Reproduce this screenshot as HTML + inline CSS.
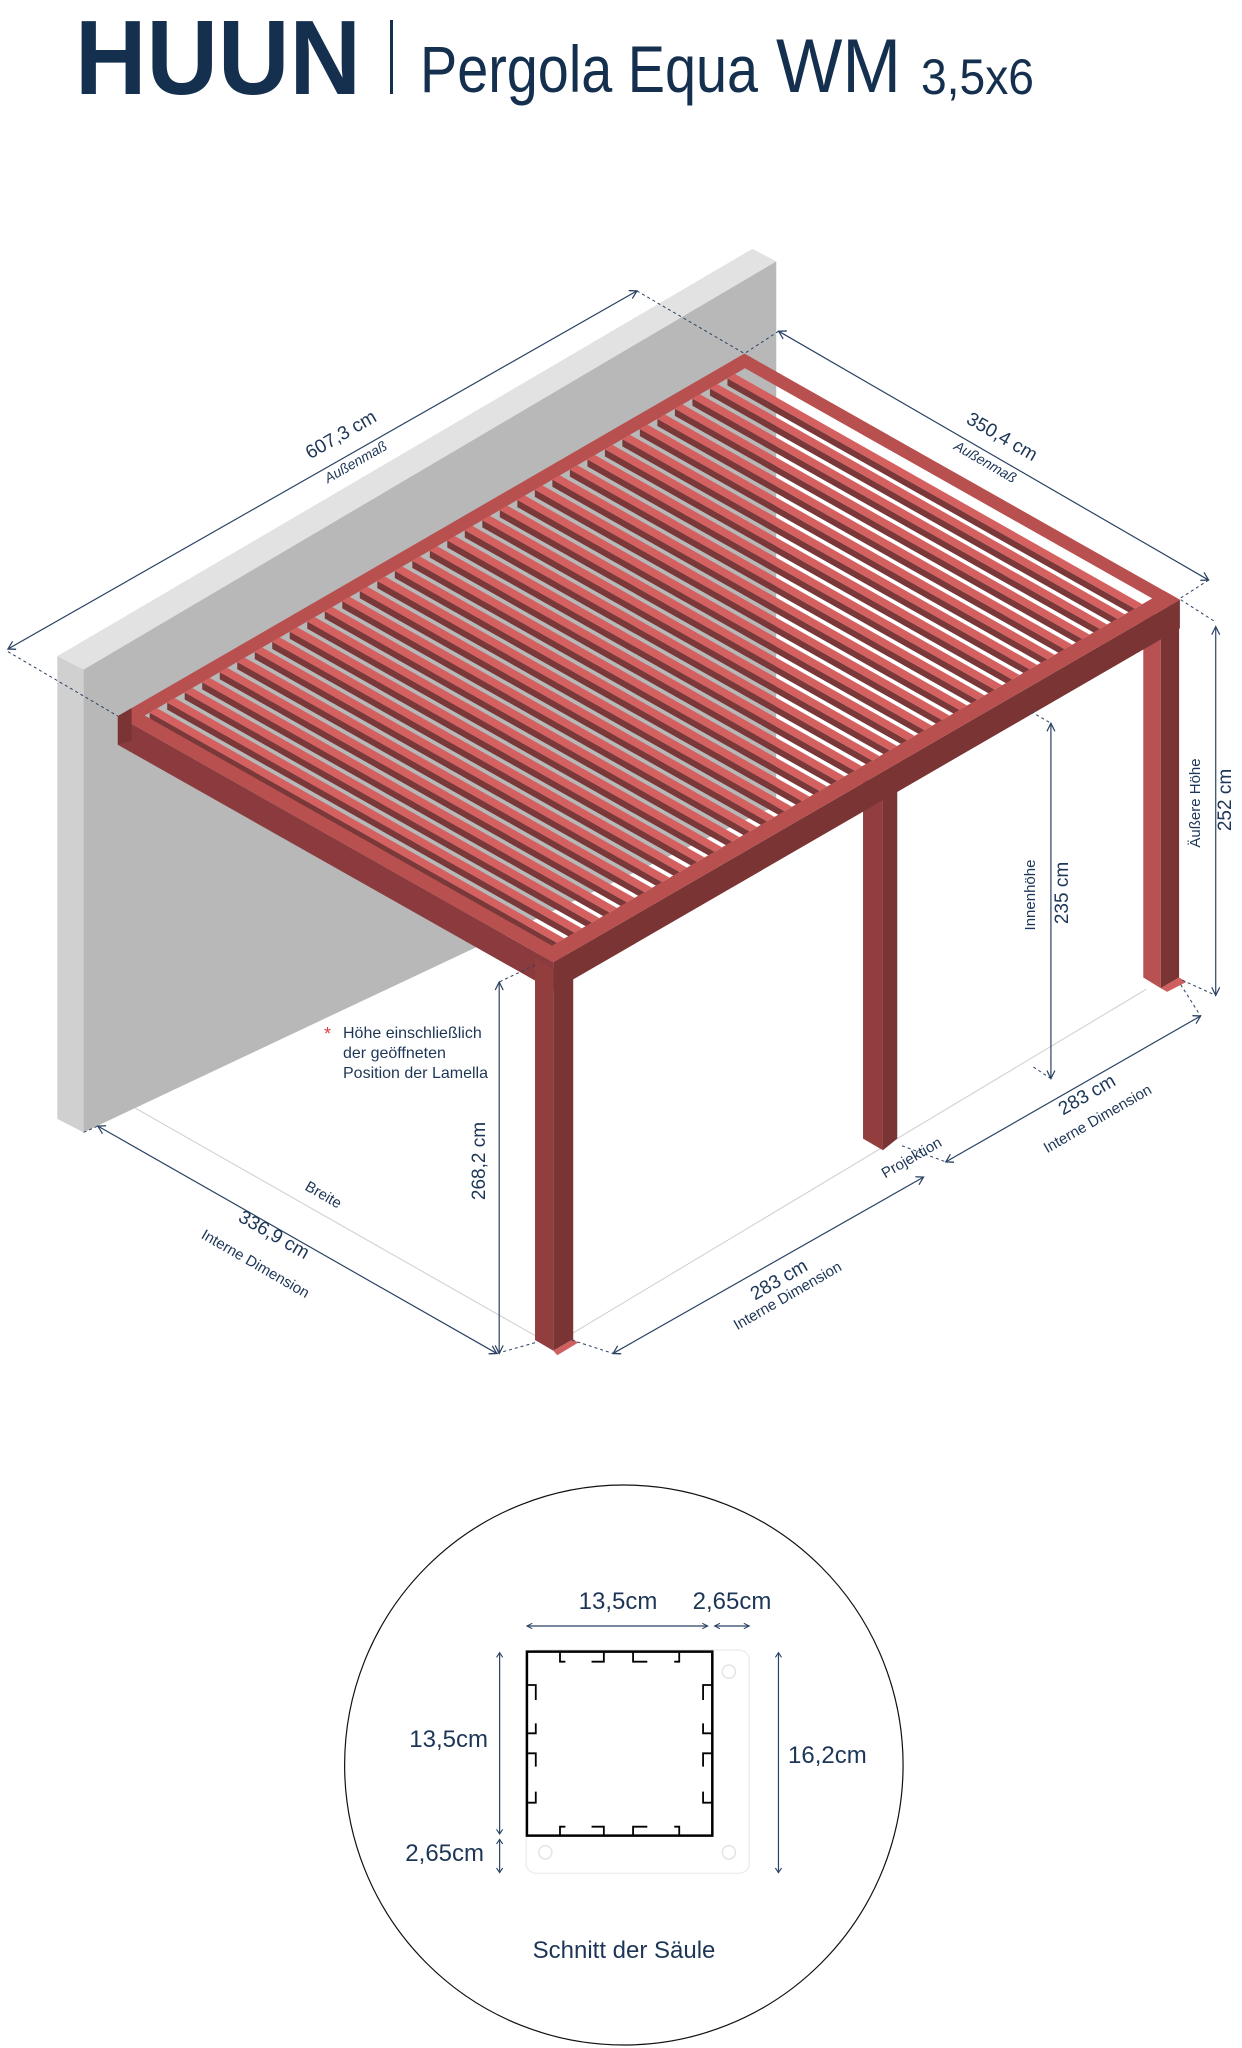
<!DOCTYPE html>
<html><head><meta charset="utf-8">
<style>
html,body{margin:0;padding:0;background:#fff;}
body{width:1242px;height:2048px;position:relative;overflow:hidden;font-family:"Liberation Sans",sans-serif;}
svg{position:absolute;left:0;top:0;}
</style></head>
<body>
<svg id="draw" width="1242" height="1400" viewBox="0 0 1560 1564" preserveAspectRatio="none">
<defs>
<marker id="ar" markerWidth="14" markerHeight="14" refX="12" refY="7" orient="auto-start-reverse" markerUnits="userSpaceOnUse">
<path d="M3,2 L12,7 L3,12" fill="none" stroke="#2a4263" stroke-width="1.5"/>
</marker>
</defs>
<polygon points="72,733 945,278 975,292 105,748" fill="#e2e2e2"/>
<polygon points="72,733 105,748 105,1265 72,1250" fill="#d0d0d0"/>
<polygon points="105,748 975,292 975,900 105,1265" fill="#b8b8b8"/>
<g stroke="#cfcfcf" stroke-width="1">
<line x1="170" y1="1238" x2="672" y2="1492" vector-effect="non-scaling-stroke"/>
<line x1="718" y1="1490" x2="1440" y2="1105" vector-effect="non-scaling-stroke"/>
</g>
<polygon points="1436,680 1458,690 1458,1104 1436,1092" fill="#b85252"/>
<polygon points="1458,690 1481,678 1481,1092 1458,1104" fill="#7a3434"/>
<polygon points="1458,1104 1481,1092 1490,1097 1466,1108" fill="#d06060"/>
<polygon points="1084,870 1109,880 1109,1285 1084,1272" fill="#923e3e"/>
<polygon points="1109,880 1127,870 1127,1272 1109,1285" fill="#7a3434"/>
<g id="roof"></g>
<polygon points="672,1070 695,1082 695,1509 672,1497" fill="#923e3e"/>
<polygon points="695,1082 720,1068 720,1496 695,1509" fill="#7a3434"/>
<polygon points="695,1509 720,1496 726,1500 700,1514" fill="#d06060"/>
<g stroke="#2a4263" stroke-width="1.2" fill="none">
<line x1="10" y1="725" x2="800" y2="325" marker-start="url(#ar)" marker-end="url(#ar)" vector-effect="non-scaling-stroke"/>
<line x1="978" y1="370" x2="1518" y2="648" marker-start="url(#ar)" marker-end="url(#ar)" vector-effect="non-scaling-stroke"/>
<line x1="1527" y1="700" x2="1527" y2="1112" marker-start="url(#ar)" marker-end="url(#ar)" vector-effect="non-scaling-stroke"/>
<line x1="1320" y1="808" x2="1320" y2="1205" marker-start="url(#ar)" marker-end="url(#ar)" vector-effect="non-scaling-stroke"/>
<line x1="627" y1="1097" x2="627" y2="1512" marker-start="url(#ar)" marker-end="url(#ar)" vector-effect="non-scaling-stroke"/>
<line x1="123" y1="1258" x2="624" y2="1512" marker-start="url(#ar)" marker-end="url(#ar)" vector-effect="non-scaling-stroke"/>
<line x1="770" y1="1512" x2="1160" y2="1315" marker-start="url(#ar)" marker-end="url(#ar)" vector-effect="non-scaling-stroke"/>
<line x1="1188" y1="1298" x2="1508" y2="1135" marker-start="url(#ar)" marker-end="url(#ar)" vector-effect="non-scaling-stroke"/>
</g>
<g stroke="#2a4263" stroke-width="1" fill="none" stroke-dasharray="3,3">
<line x1="10" y1="728" x2="148" y2="800" vector-effect="non-scaling-stroke"/>
<line x1="800" y1="325" x2="935" y2="395" vector-effect="non-scaling-stroke"/>
<line x1="978" y1="370" x2="935" y2="395" vector-effect="non-scaling-stroke"/>
<line x1="1518" y1="648" x2="1483" y2="668" vector-effect="non-scaling-stroke"/>
<line x1="1483" y1="670" x2="1527" y2="695" vector-effect="non-scaling-stroke"/>
<line x1="1485" y1="1095" x2="1527" y2="1112" vector-effect="non-scaling-stroke"/>
<line x1="1295" y1="795" x2="1320" y2="808" vector-effect="non-scaling-stroke"/>
<line x1="1298" y1="1192" x2="1320" y2="1205" vector-effect="non-scaling-stroke"/>
<line x1="672" y1="1078" x2="627" y2="1097" vector-effect="non-scaling-stroke"/>
<line x1="105" y1="1265" x2="123" y2="1258" vector-effect="non-scaling-stroke"/>
<line x1="672" y1="1500" x2="624" y2="1512" vector-effect="non-scaling-stroke"/>
<line x1="718" y1="1497" x2="770" y2="1512" vector-effect="non-scaling-stroke"/>
<line x1="1133" y1="1280" x2="1188" y2="1298" vector-effect="non-scaling-stroke"/>
<line x1="1483" y1="1100" x2="1508" y2="1135" vector-effect="non-scaling-stroke"/>
</g>
</svg>

<svg width="1242" height="2048" viewBox="0 0 1242 2048">
<g fill="#15304f" font-family="Liberation Sans, sans-serif">
<text x="75" y="94" font-size="106" font-weight="bold" textLength="286" lengthAdjust="spacingAndGlyphs">HUUN</text>
<rect x="390" y="20" width="3" height="74"/>
<text x="420" y="92" font-size="66" textLength="338" lengthAdjust="spacingAndGlyphs">Pergola Equa</text>
<text x="776" y="92" font-size="76" textLength="125" lengthAdjust="spacingAndGlyphs">WM</text>
<text x="921" y="94" font-size="50" textLength="113" lengthAdjust="spacingAndGlyphs">3,5x6</text>
</g>
<g fill="#1d3657" font-family="Liberation Sans, sans-serif" text-anchor="middle">
<text transform="translate(344,440) rotate(-30)" font-size="19">607,3 cm</text>
<text transform="translate(358,466) rotate(-30)" font-size="14" font-style="italic">Außenmaß</text>
<text transform="translate(999,442) rotate(30)" font-size="19">350,4 cm</text>
<text transform="translate(983,466) rotate(30)" font-size="14" font-style="italic">Außenmaß</text>
<text transform="translate(1231,800) rotate(-90)" font-size="19">252 cm</text>
<text transform="translate(1200,803) rotate(-90)" font-size="15">Äußere Höhe</text>
<text transform="translate(1068,893) rotate(-90)" font-size="19">235 cm</text>
<text transform="translate(1035,895) rotate(-90)" font-size="15">Innenhöhe</text>
<text transform="translate(485,1161) rotate(-90)" font-size="19">268,2 cm</text>
<text transform="translate(321,1199) rotate(30)" font-size="15">Breite</text>
<text transform="translate(271,1240) rotate(30)" font-size="19">336,9 cm</text>
<text transform="translate(253,1268) rotate(30)" font-size="15">Interne Dimension</text>
<text transform="translate(914,1162) rotate(-30)" font-size="15">Projektion</text>
<text transform="translate(782,1285) rotate(-30)" font-size="19">283 cm</text>
<text transform="translate(790,1300) rotate(-30)" font-size="15">Interne Dimension</text>
<text transform="translate(1090,1100) rotate(-30)" font-size="19">283 cm</text>
<text transform="translate(1100,1123) rotate(-30)" font-size="15">Interne Dimension</text>
</g>
<g fill="#1d3657" font-size="16" font-family="Liberation Sans, sans-serif">
<text x="324" y="1040" fill="#d94040" font-size="18">*</text>
<text x="343" y="1038">Höhe einschließlich</text>
<text x="343" y="1058">der geöffneten</text>
<text x="343" y="1078">Position der Lamella</text>
</g>
</svg>

<svg style="left:330px;top:1480px" width="600" height="568" viewBox="0 0 1560 1704" preserveAspectRatio="none">
<defs>
<marker id="ar2" markerWidth="30" markerHeight="30" refX="26" refY="15" orient="auto-start-reverse" markerUnits="userSpaceOnUse">
<path d="M12,7 L26,15 L12,23" fill="none" stroke="#2a4263" stroke-width="3"/>
</marker>
</defs>
<ellipse cx="764" cy="855" rx="726" ry="840" fill="none" stroke="#111" stroke-width="1.2" vector-effect="non-scaling-stroke"/>
<rect x="510" y="510" width="580" height="670" rx="28" fill="#fff" stroke="#eeeeee" stroke-width="1.5" vector-effect="non-scaling-stroke"/>
<g fill="none" stroke="#e4e4e4" stroke-width="1.5">
<ellipse cx="1037" cy="575" rx="17" ry="20" vector-effect="non-scaling-stroke"/>
<ellipse cx="560" cy="1117" rx="17" ry="20" vector-effect="non-scaling-stroke"/>
<ellipse cx="1037" cy="1117" rx="17" ry="20" vector-effect="non-scaling-stroke"/>
</g>
<rect x="512" y="515" width="482" height="552" fill="#fff" stroke="#000" stroke-width="2.5" vector-effect="non-scaling-stroke"/>
<g fill="none" stroke="#000" stroke-width="1.8">
<path d="M598,518 V545 H612 M680,545 H712 V518 M788,518 V545 H825 M895,545 H908 V518" vector-effect="non-scaling-stroke"/>
<path d="M598,1065 V1040 H612 M680,1040 H712 V1065 M788,1065 V1040 H825 M895,1040 H908 V1065" vector-effect="non-scaling-stroke"/>
<path d="M515,615 H535 V660 M535,730 V760 H515 M515,820 H535 V860 M535,935 V968 H515" vector-effect="non-scaling-stroke"/>
<path d="M991,615 H970 V660 M970,730 V760 H991 M991,820 H970 V860 M970,935 V968 H991" vector-effect="non-scaling-stroke"/>
</g>
<g stroke="#2a4263" stroke-width="1.2" fill="none">
<line x1="512" y1="438" x2="982" y2="438" marker-start="url(#ar2)" marker-end="url(#ar2)" vector-effect="non-scaling-stroke"/>
<line x1="1000" y1="438" x2="1090" y2="438" marker-start="url(#ar2)" marker-end="url(#ar2)" vector-effect="non-scaling-stroke"/>
<line x1="441" y1="518" x2="441" y2="1062" marker-start="url(#ar2)" marker-end="url(#ar2)" vector-effect="non-scaling-stroke"/>
<line x1="441" y1="1078" x2="441" y2="1178" marker-start="url(#ar2)" marker-end="url(#ar2)" vector-effect="non-scaling-stroke"/>
<line x1="1166" y1="518" x2="1166" y2="1178" marker-start="url(#ar2)" marker-end="url(#ar2)" vector-effect="non-scaling-stroke"/>
</g>
</svg>
<svg width="1242" height="2048" viewBox="0 0 1242 2048" style="pointer-events:none">
<g fill="#1d3657" font-size="24" font-family="Liberation Sans, sans-serif">
<text x="618" y="1609" text-anchor="middle">13,5cm</text>
<text x="732" y="1609" text-anchor="middle">2,65cm</text>
<text x="488" y="1747" text-anchor="end">13,5cm</text>
<text x="484" y="1861" text-anchor="end">2,65cm</text>
<text x="788" y="1763">16,2cm</text>
<text x="624" y="1958" text-anchor="middle">Schnitt der Säule</text>
</g>
</svg>

<script>
(function(){
var g=document.getElementById('roof');var NS='http://www.w3.org/2000/svg';
function P(u,v){return [148+787*u+547*v, 800-405*u+275*v];}
function poly(pts,fill){var p=document.createElementNS(NS,'polygon');p.setAttribute('points',pts.map(function(a){return a[0].toFixed(1)+','+a[1].toFixed(1);}).join(' '));p.setAttribute('fill',fill);g.appendChild(p);}
function dn(a,h){return [a[0],a[1]+h];}
poly([P(0,0),P(1,0),P(1,0.03),P(0,0.03)],'#b85050');
var N=34,v0=0.03,v1=0.965,w=0.012,h=8;
for(var i=N-1;i>=0;i--){
  var u=0.03+i*(0.95/N);
  poly([P(u,v0),P(u,v1),dn(P(u,v1),h),dn(P(u,v0),h)],'#7a3838');
  poly([P(u,v0),P(u+w,v0),P(u+w,v1),P(u,v1)],'#d46060');
}
poly([P(0.98,0),P(1,0),P(1,1),P(0.98,1)],'#b85050');
poly([P(0,0),P(0,1),dn(P(0,1),32),dn(P(0,0),32)],'#8b3b3d');
poly([P(0,0),P(0.022,0),P(0.022,1),P(0,1)],'#b85050');
poly([P(0,1),P(1,1),dn(P(1,1),32),dn(P(0,1),32)],'#7a3434');
poly([P(0,0.965),P(1,0.965),P(1,1),P(0,1)],'#b85050');
poly([P(0,0),dn(P(0,0),32),dn(P(0.022,0),36),P(0.022,0)],'#7a3434');
})();
</script>
</body></html>
